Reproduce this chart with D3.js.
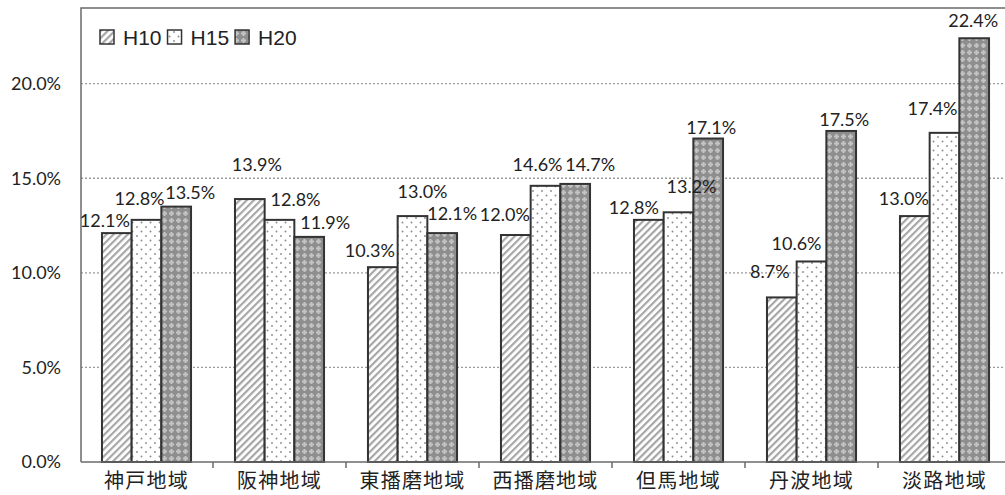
<!DOCTYPE html>
<html>
<head>
<meta charset="utf-8">
<script src="https://cdn.jsdelivr.net/npm/d3@7"></script>
<style>
  html, body { margin: 0; padding: 0; background: #fff; }
  svg { display: block; }
</style>
</head>
<body>
<svg id="chart" width="1005" height="495"></svg>
<script>
// Regions and the three survey years
const categories = ["神戸地域", "阪神地域", "東播磨地域", "西播磨地域", "但馬地域", "丹波地域", "淡路地域"];
const seriesNames = ["H10", "H15", "H20"];
const valuesH10 = [12.1, 13.9, 10.3, 12.0, 12.8, 8.7, 13.0];
const valuesH15 = [12.8, 12.8, 13.0, 14.6, 13.2, 10.6, 17.4];
const valuesH20 = [13.5, 11.9, 12.1, 14.7, 17.1, 17.5, 22.4];
const yTicks = [0, 5, 10, 15, 20];

// Hand-placed value labels: [dx, dy] nudges from the bar's top centre
const labelNudgeH10 = [[-12, -12], [7, -34], [-13, -16], [-11, -20], [-15, -12], [-12, -26], [-11, -17]];
const labelNudgeH15 = [[-7, -21], [16, -20], [10, -24], [-8, -21], [13, -26], [-15, -18], [-12, -24]];
const labelNudgeH20 = [[14, -14], [16, -14], [10, -19], [15, -19], [3, -11], [3, -11], [-1, -18]];

const series = [
  { name: seriesNames[0], values: valuesH10, nudge: labelNudgeH10, fill: "url(#pat-h10)" },
  { name: seriesNames[1], values: valuesH15, nudge: labelNudgeH15, fill: "url(#pat-h15)" },
  { name: seriesNames[2], values: valuesH20, nudge: labelNudgeH20, fill: "url(#pat-h20)" }
];

const svg = d3.select("#chart");
const frame = { left: 81, top: 8, bottom: 462, right: 1011 };

// Fill patterns
const defs = svg.append("defs");
const p10 = defs.append("pattern").attr("id", "pat-h10")
  .attr("patternUnits", "userSpaceOnUse").attr("width", 5).attr("height", 5)
  .attr("patternTransform", "rotate(45)");
p10.append("rect").attr("width", 5).attr("height", 5).attr("fill", "#fff");
p10.append("rect").attr("x", 0).attr("width", 2.2).attr("height", 5).attr("fill", "#a6a6a6");

const p15 = defs.append("pattern").attr("id", "pat-h15")
  .attr("patternUnits", "userSpaceOnUse").attr("width", 9).attr("height", 9);
p15.append("rect").attr("width", 9).attr("height", 9).attr("fill", "#fff");
p15.append("circle").attr("cx", 2).attr("cy", 2).attr("r", 0.95).attr("fill", "#8c8c8c");
p15.append("circle").attr("cx", 6.5).attr("cy", 6.5).attr("r", 0.95).attr("fill", "#8c8c8c");

const p20 = defs.append("pattern").attr("id", "pat-h20")
  .attr("patternUnits", "userSpaceOnUse").attr("width", 7).attr("height", 7);
p20.append("rect").attr("width", 7).attr("height", 7).attr("fill", "#8e8e8e");
p20.append("rect").attr("x", 2.5).attr("y", 1).attr("width", 2).attr("height", 5).attr("fill", "#c4c4c4");
p20.append("rect").attr("x", 1).attr("y", 2.5).attr("width", 5).attr("height", 2).attr("fill", "#c4c4c4");

// Scales
const x = d3.scaleBand().domain(categories).range([80, frame.right]).padding(0);
const xInner = d3.scaleBand().domain(seriesNames).range([0, x.bandwidth()]).paddingInner(0).paddingOuter(0.74);
const y = d3.scaleLinear().domain([0, 24]).range([frame.bottom, frame.top]);

// Dotted gridlines
svg.append("g").selectAll("line")
  .data(yTicks.filter(d => d > 0))
  .join("line")
  .attr("x1", frame.left).attr("x2", 1005)
  .attr("y1", d => y(d)).attr("y2", d => y(d))
  .attr("stroke", "#9a9a9a").attr("stroke-width", 1.3)
  .attr("stroke-dasharray", "2,2");

// Plot frame (top and left edges)
svg.append("path")
  .attr("d", `M${frame.left},${frame.bottom}V${frame.top}H1005`)
  .attr("fill", "none").attr("stroke", "#6a6a6a").attr("stroke-width", 1.5);

// Y axis labels
const yAxis = d3.axisLeft(y).tickValues(yTicks).tickSize(0).tickPadding(20)
  .tickFormat(d => d.toFixed(1) + "%");
const gy = svg.append("g").attr("transform", `translate(${frame.left},0)`).call(yAxis);
gy.select(".domain").remove();
gy.selectAll("text")
  .attr("font-family", "Lato, 'Open Sans', sans-serif")
  .attr("font-size", 18).attr("fill", "#222");

// Bars
const points = series.flatMap(s => s.values.map((v, i) => ({ v, c: categories[i], s, n: s.nudge[i] })));
svg.append("g").selectAll("rect")
  .data(points)
  .join("rect")
  .attr("x", d => x(d.c) + xInner(d.s.name))
  .attr("width", xInner.bandwidth())
  .attr("y", d => y(d.v))
  .attr("height", d => y(0) - y(d.v))
  .attr("fill", d => d.s.fill)
  .attr("stroke", "#333").attr("stroke-width", 2);

// Value labels, drawn above every bar
svg.append("g").selectAll("text")
  .data(points)
  .join("text")
  .attr("x", d => x(d.c) + xInner(d.s.name) + xInner.bandwidth() / 2 + d.n[0])
  .attr("y", d => y(d.v) + d.n[1])
  .attr("dy", "0.35em")
  .attr("text-anchor", "middle")
  .attr("font-family", "Lato, 'Open Sans', sans-serif")
  .attr("font-size", 18).attr("fill", "#222")
  .text(d => d.v.toFixed(1) + "%");

// X axis with boundary ticks
const gx = svg.append("g").attr("transform", `translate(0,${frame.bottom})`);
gx.append("line").attr("x1", frame.left).attr("x2", 1005)
  .attr("stroke", "#6a6a6a").attr("stroke-width", 1.5);
gx.selectAll("line.tick")
  .data(categories.slice(1))
  .join("line").attr("class", "tick")
  .attr("x1", d => x(d)).attr("x2", d => x(d))
  .attr("y1", 0).attr("y2", 6)
  .attr("stroke", "#6a6a6a").attr("stroke-width", 1.5);
gx.selectAll("text")
  .data(categories)
  .join("text")
  .attr("x", d => x(d) + x.bandwidth() / 2)
  .attr("y", 26)
  .attr("text-anchor", "middle")
  .attr("font-family", "'Noto Sans CJK JP', sans-serif")
  .attr("font-size", 20).attr("letter-spacing", 1.2)
  .attr("fill", "#222")
  .text(d => d);

// Legend
const legend = svg.append("g").attr("transform", "translate(100,30)");
let lx = 0;
series.forEach(s => {
  legend.append("rect").attr("x", lx).attr("y", 0).attr("width", 14).attr("height", 14)
    .attr("fill", s.fill).attr("stroke", "#333").attr("stroke-width", 1.5);
  const t = legend.append("text").attr("x", lx + 23).attr("y", 14.5)
    .attr("font-family", "'Liberation Sans', Arial, sans-serif")
    .attr("font-size", 21).attr("fill", "#222").text(s.name);
  lx += 23 + t.node().getComputedTextLength() + 6;
});
</script>
</body>
</html>
